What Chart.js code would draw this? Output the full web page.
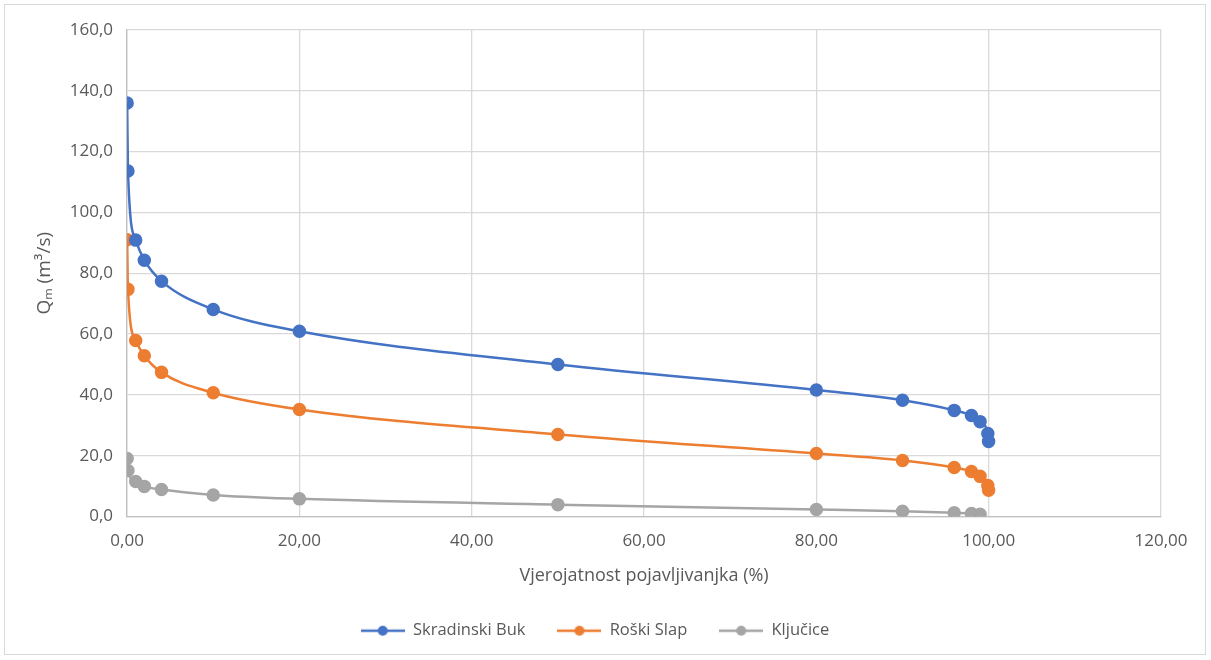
<!DOCTYPE html>
<html>
<head>
<meta charset="utf-8">
<script src="https://cdn.jsdelivr.net/npm/chart.js@4.4.0/dist/chart.umd.min.js"></script>
<style>
  html, body { margin: 0; padding: 0; background: #fff; }
  #wrap { position: absolute; left: 4px; top: 4px; width: 1202px; height: 651px; border: 1px solid #d9d9d9; box-sizing: border-box; }
  canvas { position: absolute; left: 0; top: 0; }
</style>
</head>
<body>
<div id="wrap"></div>
<canvas id="chart" width="1211" height="660"></canvas>
<script>
// probability of exceedance (%)
var probX = [0.01, 0.1, 1, 2, 4, 10, 20, 50, 80, 90, 96, 98, 99, 99.9, 99.99];
var probXKljucice = [0.01, 0.1, 1, 2, 4, 10, 20, 50, 80, 90, 96, 98, 99];

// discharge Qm (m3/s)
var skradinskiBuk = [136.0, 113.6, 90.9, 84.3, 77.4, 68.1, 60.9, 50.0, 41.6, 38.2, 34.9, 33.2, 31.2, 27.3, 24.7];
var roskiSlap = [91.0, 74.7, 57.9, 52.9, 47.4, 40.7, 35.2, 27.0, 20.7, 18.4, 16.1, 14.8, 13.2, 10.2, 8.6];
var kljucice = [19.1, 15.1, 11.5, 9.9, 8.9, 7.1, 5.8, 3.9, 2.3, 1.7, 1.2, 1.0, 0.7];

var seriesNames = ['Skradinski Buk', 'Roški Slap', 'Ključice'];
var seriesColors = ['#4472c4', '#ed7d31', '#a5a5a5'];

function toPoints(xs, ys) {
    var pts = [];
    for (var i = 0; i < ys.length; i++) pts.push({x: xs[i], y: ys[i]});
    return pts;
}

// legend marker: short line with a dot, like Excel
function legendMarker(color) {
    var c = document.createElement('canvas');
    c.width = 44; c.height = 12;
    var g = c.getContext('2d');
    g.strokeStyle = color; g.lineWidth = 2.5;
    g.beginPath(); g.moveTo(0, 6); g.lineTo(44, 6); g.stroke();
    g.fillStyle = color;
    g.beginPath(); g.arc(22, 6, 5, 0, Math.PI * 2); g.fill();
    return c;
}

function comma(v, d) { return v.toFixed(d).replace('.', ','); }

var fontFam = "'Open Sans', 'DejaVu Sans', sans-serif";
var textCol = '#595959';

var datasets = [
    {data: toPoints(probX, skradinskiBuk)},
    {data: toPoints(probX, roskiSlap)},
    {data: toPoints(probXKljucice, kljucice)}
].map(function(ds, i) {
    ds.label = seriesNames[i];
    ds.borderColor = seriesColors[i];
    ds.backgroundColor = seriesColors[i];
    ds.borderWidth = 2.5;
    ds.pointRadius = 5.5;
    ds.pointHoverRadius = 5.5;
    ds.showLine = true;
    ds.cubicInterpolationMode = 'monotone';
    ds.pointStyle = 'circle';
    ds.legendImg = legendMarker(seriesColors[i]);
    return ds;
});

var ctx = document.getElementById('chart').getContext('2d');
new Chart(ctx, {
    type: 'scatter',
    data: {datasets: datasets},
    options: {
        responsive: false,
        animation: false,
        layout: {padding: {top: 30, right: 50, left: 29, bottom: 11}},
        plugins: {
            tooltip: {enabled: false},
            legend: {
                position: 'bottom',
                labels: {
                    usePointStyle: true,
                    pointStyleWidth: 44,
                    color: textCol,
                    padding: 32,
                    font: {family: fontFam, size: 16.5},
                    generateLabels: function(chart) {
                        return chart.data.datasets.map(function(ds, i) {
                            return {
                                text: ds.label,
                                pointStyle: ds.legendImg,
                                fillStyle: ds.borderColor,
                                strokeStyle: ds.borderColor,
                                fontColor: textCol,
                                lineWidth: 0,
                                datasetIndex: i
                            };
                        });
                    }
                }
            }
        },
        scales: {
            x: {
                type: 'linear',
                min: 0, max: 120,
                ticks: {stepSize: 20, color: textCol, padding: 14, font: {family: fontFam, size: 17},
                    callback: function(v) { return comma(v, 2); }},
                grid: {color: '#d9d9d9', lineWidth: 1.3, drawTicks: false},
                border: {color: '#bfbfbf', width: 1.3},
                title: {display: true, text: 'Vjerojatnost pojavljivanjka (%)', color: textCol,
                    font: {family: fontFam, size: 18}, padding: {top: 0}}
            },
            y: {
                min: 0, max: 160,
                ticks: {stepSize: 20, color: textCol, padding: 14, font: {family: fontFam, size: 17},
                    callback: function(v) { return comma(v, 1); }},
                grid: {color: '#d9d9d9', lineWidth: 1.3, drawTicks: false},
                border: {color: '#bfbfbf', width: 1.3},
                title: {display: true, text: 'Qₘ (m³/s)', color: textCol,
                    font: {family: fontFam, size: 19}, padding: {bottom: 0}}
            }
        }
    }
});
</script>
</body>
</html>
